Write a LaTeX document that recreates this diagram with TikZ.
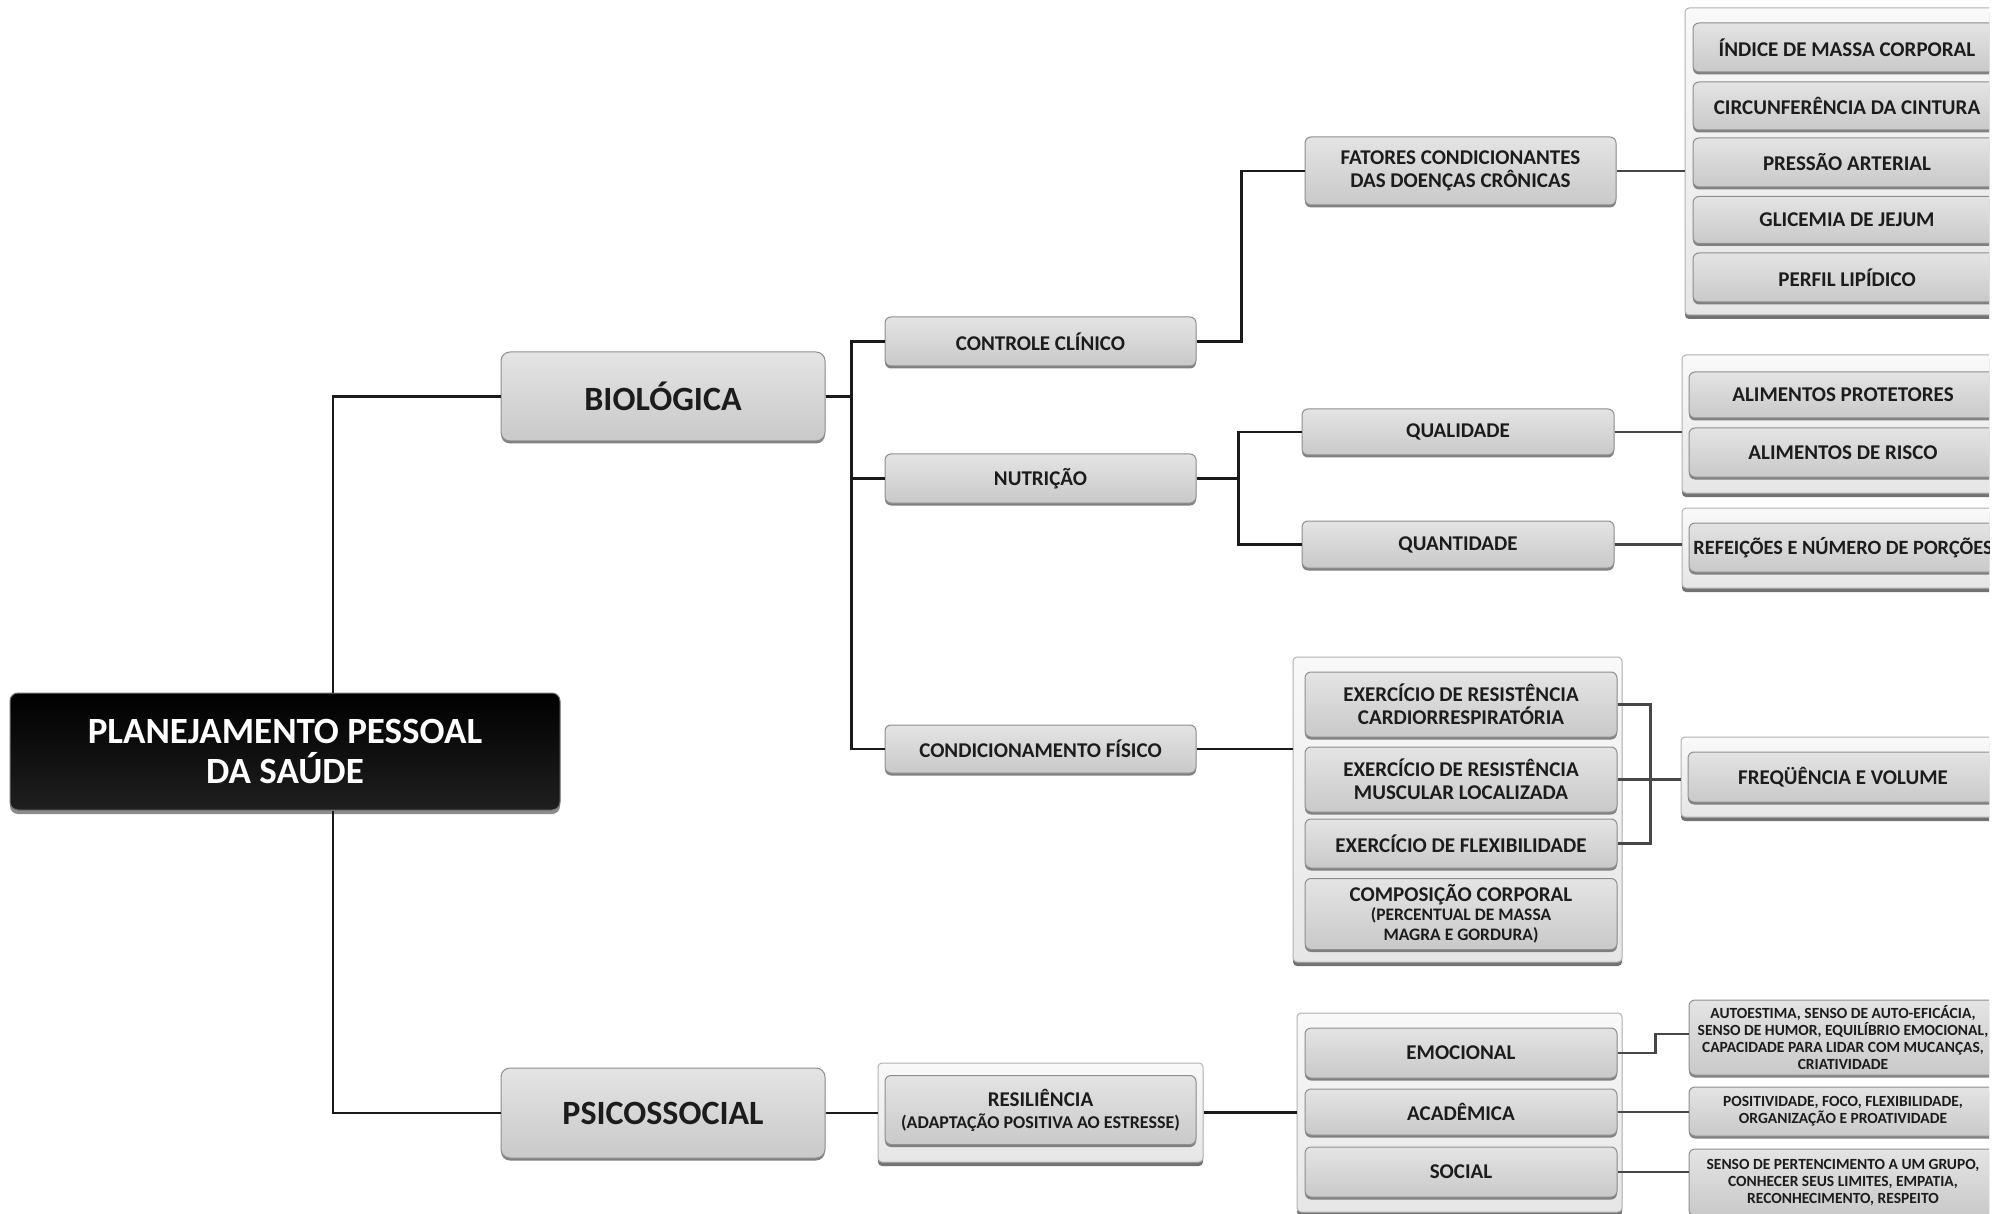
\documentclass[tikz,border=0pt]{standalone}
\usepackage{fontspec}
\setmainfont{Carlito}
\usetikzlibrary{shadows}
\definecolor{txt}{HTML}{1C1C1C}
\definecolor{itemtop}{HTML}{E4E4E4}
\definecolor{itembot}{HTML}{C9C9C9}
\definecolor{itemborder}{HTML}{8E8E8E}
\definecolor{grptop}{HTML}{F9F9F9}
\definecolor{grpbot}{HTML}{E6E6E6}
\definecolor{grpborder}{HTML}{B2B2B2}
\definecolor{linedark}{HTML}{1A1A1A}
\definecolor{linegray}{HTML}{474747}
\newcommand\fitem{\fontsize{21}{23}\selectfont}
\newcommand\fsmall{\fontsize{17.5}{20}\selectfont}
\newcommand\fresil{\fontsize{18}{20}\selectfont}
\newcommand\ftiny{\fontsize{15.5}{17}\selectfont}
\begin{document}
\begin{tikzpicture}[x=1pt,y=-1pt,
  itm/.style={rounded corners=6pt, draw=itemborder, line width=1pt, top color=itemtop, bottom color=itembot,
    text=txt, font=\bfseries\fitem, align=center, inner sep=0pt,
    drop shadow={shadow xshift=0pt, shadow yshift=-2.5pt, fill=black!50, opacity=1}},
  big/.style={itm, rounded corners=9pt, font=\bfseries\fontsize{34}{38}\selectfont},
  grp/.style={rounded corners=4pt, draw=grpborder, line width=1pt, top color=grptop, bottom color=grpbot,
    inner sep=0pt, drop shadow={shadow xshift=0pt, shadow yshift=-4pt, fill=black!55, opacity=1}},
  rootbox/.style={rounded corners=8pt, draw=black!55, line width=1pt, top color=black, bottom color=black!88,
    text=white, font=\bfseries\fontsize{37}{40}\selectfont, align=center, inner sep=0pt,
    drop shadow={shadow xshift=0pt, shadow yshift=-4pt, fill=black!45, opacity=1}},
  conn/.style={draw=linedark, line width=2.6pt},
  conn2/.style={draw=linegray, line width=2.4pt},
]
\useasboundingbox (0,0) rectangle (2006,1214);
\fill[white] (0,0) rectangle (2006,1214);
\begin{scope}
\clip (0,0) rectangle (1989,1214);

% ---------- nodes ----------
\node[rootbox, minimum width=550pt, minimum height=117pt] (root) at (285,751.5) {PLANEJAMENTO PESSOAL\\DA SAÚDE};

\node[big, minimum width=324pt, minimum height=89pt] (bio) at (663,396.5) {BIOLÓGICA};
\node[big, minimum width=324pt, minimum height=90pt] (psi) at (663,1113) {PSICOSSOCIAL};

\node[itm, minimum width=311pt, minimum height=49pt] (cc) at (1040.5,341.5) {CONTROLE CLÍNICO};
\node[itm, minimum width=311pt, minimum height=49pt] (nut) at (1040.5,478.5) {NUTRIÇÃO};
\node[itm, minimum width=311pt, minimum height=48pt] (cf) at (1040.5,749) {CONDICIONAMENTO FÍSICO};

\node[itm, minimum width=311pt, minimum height=68pt] (fat) at (1460.5,171) {FATORES CONDICIONANTES\\DAS DOENÇAS CRÔNICAS};
\node[itm, minimum width=312pt, minimum height=46pt] (qual) at (1458,432) {QUALIDADE};
\node[itm, minimum width=312pt, minimum height=47pt] (quant) at (1458,544.5) {QUANTIDADE};

% group A
\node[grp, minimum width=325pt, minimum height=307pt] (gA) at (1847.5,161.5) {};
\node[itm, minimum width=308pt, minimum height=49pt] (a1) at (1847,47.5) {ÍNDICE DE MASSA CORPORAL};
\node[itm, minimum width=308pt, minimum height=48pt] (a2) at (1847,106) {CIRCUNFERÊNCIA DA CINTURA};
\node[itm, minimum width=308pt, minimum height=49pt] (a3) at (1847,162.5) {PRESSÃO ARTERIAL};
\node[itm, minimum width=308pt, minimum height=47pt] (a4) at (1847,220) {GLICEMIA DE JEJUM};
\node[itm, minimum width=308pt, minimum height=49pt] (a5) at (1847,277.5) {PERFIL LIPÍDICO};

% group B
\node[grp, minimum width=328pt, minimum height=138pt] (gB) at (1846,424) {};
\node[itm, minimum width=308pt, minimum height=46pt] (b1) at (1843,395) {ALIMENTOS PROTETORES};
\node[itm, minimum width=308pt, minimum height=49pt] (b2) at (1843,452.5) {ALIMENTOS DE RISCO};

% group C
\node[grp, minimum width=328pt, minimum height=80pt] (gC) at (1846,548) {};
\node[itm, font=\bfseries\fontsize{20.3}{23}\selectfont, minimum width=308pt, minimum height=49pt] (c1) at (1843,547.5) {REFEIÇÕES E NÚMERO DE PORÇÕES};

% group D
\node[grp, minimum width=329pt, minimum height=305pt] (gD) at (1457.5,809.5) {};
\node[itm, minimum width=312pt, minimum height=65pt] (ex1) at (1461,704.5) {EXERCÍCIO DE RESISTÊNCIA\\CARDIORRESPIRATÓRIA};
\node[itm, minimum width=312pt, minimum height=65pt] (ex2) at (1461,779.5) {EXERCÍCIO DE RESISTÊNCIA\\MUSCULAR LOCALIZADA};
\node[itm, minimum width=312pt, minimum height=49pt] (ex3) at (1461,843.5) {EXERCÍCIO DE FLEXIBILIDADE};
\node[itm, minimum width=312pt, minimum height=71pt] (ex4) at (1461,914) {COMPOSIÇÃO CORPORAL\\[-4pt]\fsmall(PERCENTUAL DE MASSA\\[-3pt]\fsmall MAGRA E GORDURA)};

% group F
\node[grp, minimum width=329pt, minimum height=80pt] (gF) at (1845.5,777) {};
\node[itm, minimum width=310pt, minimum height=50pt] (f1) at (1843,777) {FREQÜÊNCIA E VOLUME};

% group R
\node[grp, minimum width=325pt, minimum height=99pt] (gR) at (1040.5,1112.5) {};
\node[itm, minimum width=311pt, minimum height=69pt] (res) at (1040.5,1110) {RESILIÊNCIA\\[-1pt]\fresil(ADAPTAÇÃO POSITIVA AO ESTRESSE)};

% group E
\node[grp, minimum width=325pt, minimum height=199pt] (gE) at (1459.5,1112.5) {};
\node[itm, minimum width=312pt, minimum height=50pt] (emo) at (1461,1053) {EMOCIONAL};
\node[itm, minimum width=312pt, minimum height=46pt] (aca) at (1461,1112) {ACADÊMICA};
\node[itm, minimum width=312pt, minimum height=50pt] (soc) at (1461,1172) {SOCIAL};

% right text boxes
\node[itm, font=\bfseries\ftiny, minimum width=308pt, minimum height=75pt] (auto) at (1843,1037.5)
  {AUTOESTIMA, SENSO DE AUTO-EFICÁCIA,\\SENSO DE HUMOR, EQUILÍBRIO EMOCIONAL,\\CAPACIDADE PARA LIDAR COM MUCANÇAS,\\CRIATIVIDADE};
\node[itm, font=\bfseries\ftiny, minimum width=308pt, minimum height=49pt] (pos) at (1843,1111.5)
  {POSITIVIDADE, FOCO, FLEXIBILIDADE,\\ORGANIZAÇÃO E PROATIVIDADE};
\node[itm, font=\bfseries\ftiny, minimum width=308pt, minimum height=67pt] (sen) at (1843,1182.5)
  {SENSO DE PERTENCIMENTO A UM GRUPO,\\CONHECER SEUS LIMITES, EMPATIA,\\RECONHECIMENTO, RESPEITO};

% ---------- connectors ----------
\draw[conn] ([xshift=48pt]root.north) |- (bio.west);
\draw[conn] ([xshift=48pt]root.south) |- (psi.west);

\draw[conn] (bio.east) -- ++(26,0) |- (cc.west);
\draw[conn] (bio.east) ++(26,0) |- (nut.west);
\draw[conn] (bio.east) ++(26,0) |- (cf.west);

\draw[conn] (cc.east) -- ++(45,0) |- (fat.west);
\draw[conn2] (fat.east) -- (fat.east -| gA.west);

\draw[conn] (nut.east) -- ++(42,0) |- (qual.west);
\draw[conn] (nut.east) ++(42,0) |- (quant.west);
\draw[conn2] (qual.east) -- (qual.east -| gB.west);
\draw[conn2] (quant.east) -- (quant.east -| gC.west);

\draw[conn] (cf.east) -- (cf.east -| gD.west);
\draw[conn2] (ex1.east) -- ++(33,0) |- (ex3.east);
\draw[conn2] (ex2.east) -- (ex2.east -| gF.west);

\draw[conn] (psi.east) -- (psi.east -| gR.west);
\draw[conn] (gR.east) -- (gR.east -| gE.west);

\draw[conn2] (emo.east) -- ++(38,0) |- ([yshift=3.5pt]auto.west);
\draw[conn2] (aca.east) -- (aca.east -| pos.west);
\draw[conn2] (soc.east) -- (soc.east -| sen.west);
\end{scope}
\end{tikzpicture}
\end{document}
